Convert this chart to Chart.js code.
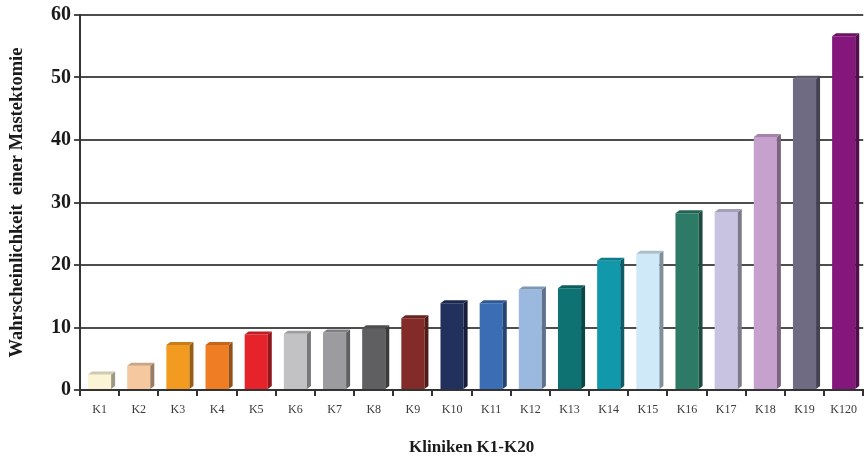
<!DOCTYPE html>
<html>
<head>
<meta charset="utf-8">
<script src="https://cdn.jsdelivr.net/npm/chart.js@4.4.1/dist/chart.umd.min.js"></script>
<style>
  html, body { margin: 0; padding: 0; background: #ffffff; }
  #wrap { width: 864px; height: 458px; position: relative; }
</style>
</head>
<body>
<div id="wrap"><canvas id="chart"></canvas></div>
<script>
// Kliniken (the last label is printed as "K120" on the axis)
const kliniken = ['K1', 'K2', 'K3', 'K4', 'K5', 'K6', 'K7', 'K8', 'K9', 'K10',
                  'K11', 'K12', 'K13', 'K14', 'K15', 'K16', 'K17', 'K18', 'K19', 'K120'];

// Wahrscheinlichkeit einer Mastektomie (%)
const wahrscheinlichkeit = [2.5, 3.9, 7.2, 7.2, 8.9, 9.0, 9.2, 9.9, 11.5, 13.9,
                            13.9, 16.1, 16.3, 20.7, 21.8, 28.3, 28.5, 40.5, 49.8, 56.6];

// one colour per clinic
const farben = ['#FBF5D6', '#F6C8A0', '#F39A20', '#EF7D24', '#E6232B', '#C2C2C4', '#9B9BA0',
                '#5F5F61', '#822B29', '#22305E', '#3B6DB4', '#9BB8DE', '#0F7272', '#1198AA',
                '#CFE9F8', '#2D7A66', '#C8C3E1', '#C7A1CD', '#6E6B82', '#85167B'];

const yTicks = [0, 10, 20, 30, 40, 50, 60];

const serif = '"Liberation Serif", "Times New Roman", serif';

function shade(hex, f) {
  const n = parseInt(hex.slice(1), 16);
  const r = Math.round(((n >> 16) & 255) * f);
  const g = Math.round(((n >> 8) & 255) * f);
  const b = Math.round((n & 255) * f);
  return `rgb(${r},${g},${b})`;
}

// side and top faces give each bar its block look
const bar3d = {
  id: 'bar3d',
  afterDatasetsDraw(chart) {
    const ctx = chart.ctx;
    const meta = chart.getDatasetMeta(0);
    const dx = 4, dy = 3;
    meta.data.forEach((bar, i) => {
      const { x, y, base, width } = bar.getProps(['x', 'y', 'base', 'width'], true);
      const l = x - width / 2, r = x + width / 2;
      ctx.save();
      ctx.fillStyle = shade(farben[i], 0.62);
      ctx.beginPath();
      ctx.moveTo(r, y); ctx.lineTo(r + dx, y - dy);
      ctx.lineTo(r + dx, base - dy); ctx.lineTo(r, base);
      ctx.closePath(); ctx.fill();
      ctx.fillStyle = shade(farben[i], 0.82);
      ctx.beginPath();
      ctx.moveTo(l, y); ctx.lineTo(l + dx, y - dy);
      ctx.lineTo(r + dx, y - dy); ctx.lineTo(r, y);
      ctx.closePath(); ctx.fill();
      ctx.restore();
    });
  }
};

new Chart(document.getElementById('chart'), {
  type: 'bar',
  data: {
    labels: kliniken,
    datasets: [{
      data: wahrscheinlichkeit,
      backgroundColor: farben,
      borderWidth: 0,
      categoryPercentage: 1.0,
      barPercentage: 0.59
    }]
  },
  options: {
    responsive: true,
    maintainAspectRatio: false,
    animation: false,
    devicePixelRatio: 1,
    layout: { padding: { top: 15, right: 0, bottom: 0, left: 0 } },
    plugins: {
      legend: { display: false },
      tooltip: { enabled: false }
    },
    scales: {
      x: {
        offset: true,
        grid: { display: true, drawOnChartArea: false, drawTicks: true, tickLength: 6, color: '#333333', lineWidth: 2 },
        border: { display: true, color: '#333333', width: 2 },
        ticks: { color: '#3a3a3a', font: { family: serif, size: 12 }, padding: 7, maxRotation: 0, autoSkip: false },
        title: {
          display: true,
          text: 'Kliniken K1-K20',
          color: '#1a1a1a',
          font: { family: serif, size: 17, weight: 'bold' },
          padding: { top: 1, bottom: 0 }
        },
        afterFit(scale) { scale.height = 68; }
      },
      y: {
        min: 0,
        max: 60,
        afterBuildTicks(scale) { scale.ticks = yTicks.map(v => ({ value: v })); },
        grid: { color: '#4d4d4d', lineWidth: 2, drawTicks: true, tickLength: 6 },
        border: { display: true, color: '#333333', width: 2 },
        ticks: { color: '#1a1a1a', font: { family: serif, size: 20, weight: 'bold' }, padding: 3 },
        title: {
          display: true,
          text: 'Wahrscheinlichkeit  einer Mastektomie',
          color: '#1a1a1a',
          font: { family: serif, size: 18.5, weight: 'bold' },
          padding: { top: 6, bottom: 0 }
        },
        afterFit(scale) { scale.width = 80; }
      }
    }
  },
  plugins: [bar3d]
});
</script>
</body>
</html>
